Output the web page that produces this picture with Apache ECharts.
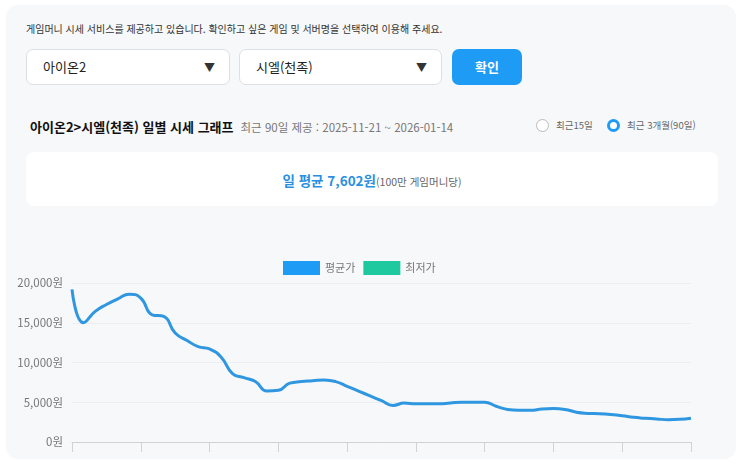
<!DOCTYPE html>
<html lang="ko">
<head>
<meta charset="utf-8">
<script src="https://cdn.jsdelivr.net/npm/echarts@6/dist/echarts.min.js"></script>
<style>
  html, body { margin: 0; padding: 0; background: #fff; }
  body { width: 743px; height: 469px; position: relative; overflow: hidden;
    font-family: "Noto Sans CJK KR", "Noto Sans", sans-serif; color: #333; }
  .panel { position: absolute; left: 6px; top: 5px; width: 730px; height: 454px;
    background: #f7f8fa; border-radius: 12px; }
  .notice { position: absolute; left: 26px; top: 21px; font-size: 10px; color: #333; }
  .select { position: absolute; top: 49px; height: 36px; background: #fff;
    border: 1px solid #dcdfe4; border-radius: 7px; box-sizing: border-box;
    font-size: 13px; line-height: 34px; padding-left: 16px; color: #222; }
  .select .arrow { position: absolute; right: 14px; top: 0; font-size: 11px; color: #333; }
  .btn { position: absolute; left: 452px; top: 49px; width: 70px; height: 36px;
    background: #1e9bf5; border-radius: 7px; color: #fff; font-size: 13px;
    font-weight: bold; text-align: center; line-height: 36px; }
  .title { position: absolute; left: 30px; top: 117px; font-size: 13px; font-weight: bold; color: #111; }
  .title span { font-weight: normal; font-size: 11.5px; color: #777; margin-left: 7px; }
  .radio { position: absolute; top: 118px; font-size: 9.5px; color: #666; line-height: 14px; }
  .radio i { display: inline-block; width: 13px; height: 13px; border-radius: 50%;
    box-sizing: border-box; border: 1px solid #bbb; vertical-align: -3px; margin-right: 7px; background: #fff; }
  .radio i.on { border: 3px solid #1e9bf5; }
  .avgbox { position: absolute; left: 26px; top: 152px; width: 692px; height: 54px;
    background: #fff; border-radius: 8px; text-align: center; line-height: 54px; }
  .avgbox b { color: #2a8fe0; font-size: 13.5px; }
  .avgbox span { color: #666; font-size: 10.5px; }
  #chart { position: absolute; left: 0; top: 0; width: 743px; height: 469px; }
</style>
</head>
<body>
<div class="panel"></div>
<div class="notice">게임머니 시세 서비스를 제공하고 있습니다. 확인하고 싶은 게임 및 서버명을 선택하여 이용해 주세요.</div>
<div class="select" style="left:26px;width:204px;">아이온2<span class="arrow">▼</span></div>
<div class="select" style="left:239px;width:203px;">시엘(천족)<span class="arrow">▼</span></div>
<div class="btn">확인</div>
<div class="title">아이온2&gt;시엘(천족) 일별 시세 그래프<span>최근 90일 제공 : 2025-11-21 ~ 2026-01-14</span></div>
<div class="radio" style="left:536px;"><i></i>최근15일</div>
<div class="radio" style="left:607px;"><i class="on"></i>최근 3개월(90일)</div>
<div class="avgbox"><b>일 평균 7,602원</b><span>(100만 게임머니당)</span></div>
<div id="chart"></div>
<script>
const dates = [
  '2025-11-21', '2025-11-22', '2025-11-23', '2025-11-24', '2025-11-25', '2025-11-26', '2025-11-27',
  '2025-11-28', '2025-11-29', '2025-11-30', '2025-12-01', '2025-12-02', '2025-12-03', '2025-12-04',
  '2025-12-05', '2025-12-06', '2025-12-07', '2025-12-08', '2025-12-09', '2025-12-10', '2025-12-11',
  '2025-12-12', '2025-12-13', '2025-12-14', '2025-12-15', '2025-12-16', '2025-12-17', '2025-12-18',
  '2025-12-19', '2025-12-20', '2025-12-21', '2025-12-22', '2025-12-23', '2025-12-24', '2025-12-25',
  '2025-12-26', '2025-12-27', '2025-12-28', '2025-12-29', '2025-12-30', '2025-12-31', '2026-01-01',
  '2026-01-02', '2026-01-03', '2026-01-04', '2026-01-05', '2026-01-06', '2026-01-07', '2026-01-08',
  '2026-01-09', '2026-01-10', '2026-01-11', '2026-01-12', '2026-01-13', '2026-01-14',
]

// 평균가 (100만 게임머니당, 원)
const avgPrice = [
  19200, 15000, 16400, 17300, 18000, 18600, 18100, 16000, 15800, 13700,
  12800, 12000, 11700, 10700, 8600, 8100, 7600, 6400, 6500, 7400,
  7600, 7700, 7800, 7600, 7000, 6400, 5800, 5200, 4600, 4900,
  4800, 4800, 4800, 4900, 5000, 5000, 5000, 4500, 4100, 4000,
  4000, 4150, 4200, 4100, 3750, 3600, 3550, 3450, 3300, 3100,
  3000, 2900, 2800, 2850, 3000,
]

// 최저가: no values drawn in the reference
const minPrice = []

const seriesNames = ['평균가', '최저가']
const yTicks = { min: 0, max: 20000, interval: 5000 }

const chart = echarts.init(document.getElementById('chart'))

chart.setOption({
  animation: false,
  textStyle: { fontFamily: '"Noto Sans CJK KR", "Noto Sans", sans-serif' },
  legend: {
    data: seriesNames,
    left: 278,
    top: 256,
    itemWidth: 37,
    itemHeight: 14,
    itemGap: 8,
    icon: 'rect',
    textStyle: { color: '#777', fontSize: 11 },
  },
  grid: {
    left: 72,
    right: 52,
    top: 283,
    bottom: 27,
    containLabel: false,
  },
  xAxis: {
    type: 'category',
    data: dates,
    boundaryGap: false,
    axisLine: { lineStyle: { color: '#cfd2d6' } },
    axisTick: { interval: 5, length: 10, lineStyle: { color: '#cfd2d6' } },
    axisLabel: { show: false },
  },
  yAxis: {
    type: 'value',
    min: yTicks.min,
    max: yTicks.max,
    interval: yTicks.interval,
    axisLine: { show: false },
    axisTick: { show: false },
    splitLine: { lineStyle: { color: '#eceef1' } },
    axisLabel: {
      color: '#777',
      fontSize: 11.5,
      margin: 9,
      formatter: (v) => v.toLocaleString('en-US') + '원',
    },
  },
  series: [
    {
      name: seriesNames[0],
      type: 'line',
      data: avgPrice,
      smooth: true,
      symbol: 'none',
      lineStyle: { width: 3, color: '#2f96e0' },
      itemStyle: { color: '#1e9bf5' },
    },
    {
      name: seriesNames[1],
      type: 'line',
      data: minPrice,
      smooth: true,
      symbol: 'none',
      lineStyle: { width: 3, color: '#1fc9a0' },
      itemStyle: { color: '#1fc9a0' },
    },
  ],
})
</script>
</body>
</html>
